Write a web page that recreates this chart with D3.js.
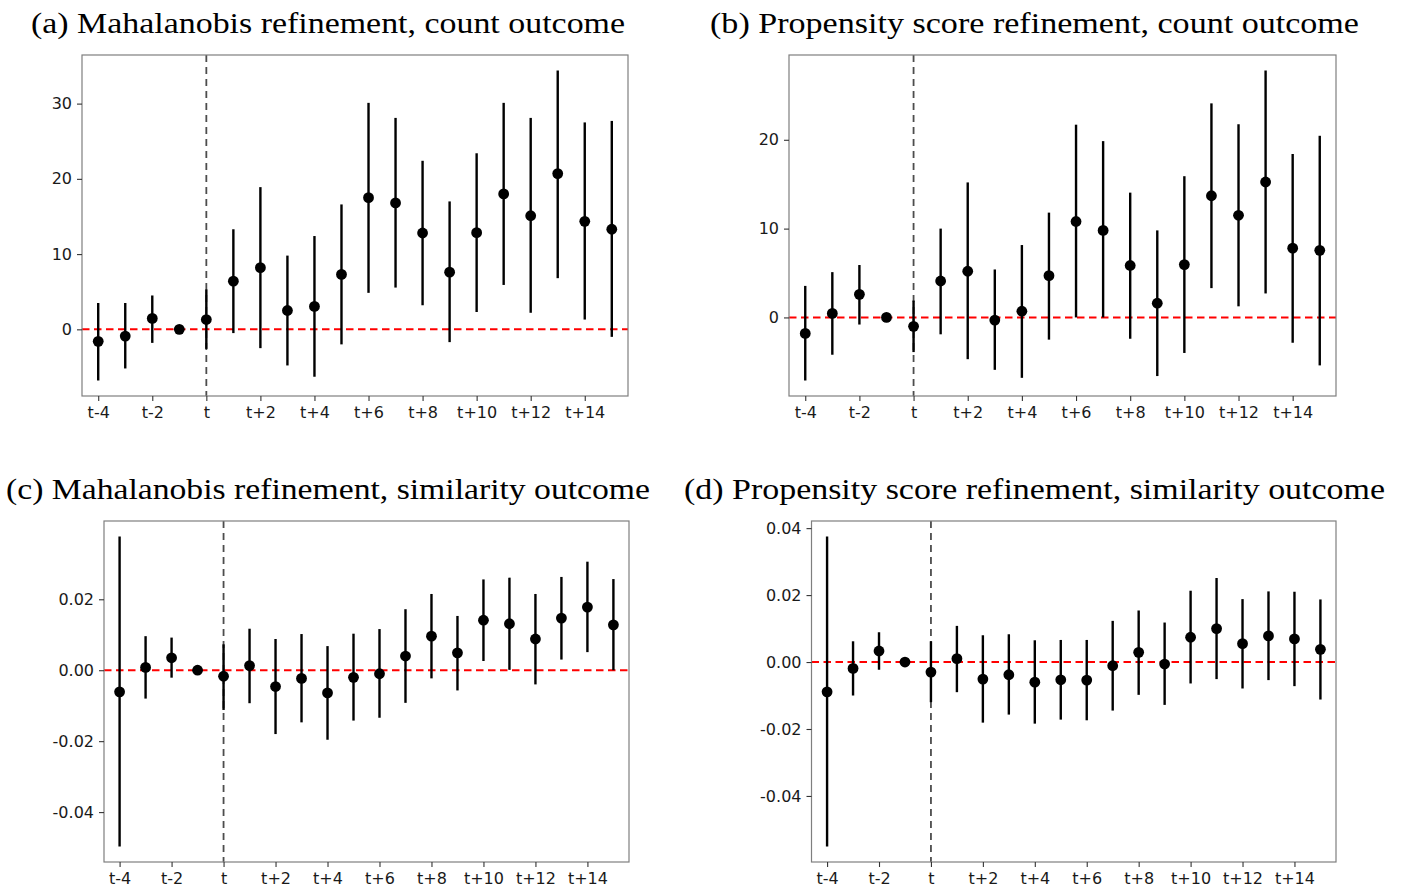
<!DOCTYPE html>
<html>
<head>
<meta charset="utf-8">
<script src="https://cdn.jsdelivr.net/npm/d3@7"></script>
<style>
  html, body { margin: 0; padding: 0; background: #fff; }
  svg { display: block; }
</style>
</head>
<body>
<svg id="chart" width="1402" height="892"></svg>
<script>
// ---------- data ----------
const periods = ["t-4","t-3","t-2","t-1","t","t+1","t+2","t+3","t+4","t+5","t+6","t+7","t+8","t+9","t+10","t+11","t+12","t+13","t+14","t+15"];
const xTickLabels = ["t-4","t-2","t","t+2","t+4","t+6","t+8","t+10","t+12","t+14"];

const titles = [
  "(a) Mahalanobis refinement, count outcome",
  "(b) Propensity score refinement, count outcome",
  "(c) Mahalanobis refinement, similarity outcome",
  "(d) Propensity score refinement, similarity outcome"
];

// (a) Mahalanobis, count
const aEst = [-1.6,-0.9,1.45,0,1.3,6.4,8.2,2.5,3.05,7.3,17.5,16.8,12.8,7.6,12.85,18.0,15.1,20.7,14.35,13.3];
const aLo  = [-6.8,-5.2,-1.8,0,-2.6,-0.5,-2.5,-4.8,-6.3,-2.0,4.85,5.55,3.2,-1.7,2.3,5.9,2.2,6.8,1.3,-1.0];
const aHi  = [3.5,3.5,4.5,0,5.3,13.3,18.9,9.8,12.4,16.6,30.1,28.1,22.4,17.0,23.4,30.1,28.1,34.4,27.5,27.7];

// (b) Propensity score, count
const bEst = [-1.8,0.45,2.6,0,-1.0,4.1,5.2,-0.3,0.7,4.7,10.8,9.8,5.85,1.6,5.95,13.7,11.5,15.25,7.8,7.55];
const bLo  = [-7.1,-4.2,-0.8,0,-3.9,-1.9,-4.7,-5.9,-6.8,-2.5,0.0,0.0,-2.4,-6.6,-4.0,3.3,1.25,2.7,-2.85,-5.4];
const bHi  = [3.55,5.1,5.9,0,1.9,10.0,15.2,5.4,8.15,11.8,21.7,19.85,14.05,9.8,15.9,24.1,21.75,27.8,18.4,20.45];

// (c) Mahalanobis, similarity
const cEst = [-0.0061,0.0008,0.0035,0,-0.0017,0.0013,-0.0046,-0.0023,-0.0064,-0.0020,-0.0010,0.0040,0.0096,0.0049,0.0141,0.0131,0.0088,0.0147,0.0178,0.0128];
const cLo  = [-0.0497,-0.0080,-0.0021,0,-0.0112,-0.0093,-0.0180,-0.0147,-0.0196,-0.0142,-0.0134,-0.0092,-0.0023,-0.0057,0.0026,0.0001,-0.0040,0.0030,0.0051,0.0000];
const cHi  = [0.0377,0.0096,0.0092,0,0.0073,0.0117,0.0088,0.0102,0.0068,0.0103,0.0116,0.0172,0.0215,0.0153,0.0256,0.0261,0.0215,0.0263,0.0306,0.0257];

// (d) Propensity score, similarity
const dEst = [-0.0089,-0.0019,0.0033,0,-0.0030,0.0010,-0.0051,-0.0038,-0.0060,-0.0053,-0.0054,-0.0011,0.0029,-0.0006,0.0074,0.0100,0.0055,0.0078,0.0069,0.0038];
const dLo  = [-0.0551,-0.0100,-0.0023,0,-0.0120,-0.0090,-0.0181,-0.0157,-0.0184,-0.0172,-0.0174,-0.0145,-0.0098,-0.0128,-0.0064,-0.0051,-0.0079,-0.0054,-0.0072,-0.0112];
const dHi  = [0.0375,0.0062,0.0089,0,0.0062,0.0108,0.0080,0.0083,0.0065,0.0066,0.0066,0.0123,0.0154,0.0118,0.0213,0.0251,0.0188,0.0211,0.0210,0.0187];

const aYTicks = [0,10,20,30];
const bYTicks = [0,10,20];
const cYTicks = [-0.04,-0.02,0.00,0.02];
const dYTicks = [-0.04,-0.02,0.00,0.02,0.04];

// ---------- layout ----------
const panels = [
  { title: titles[0], est: aEst, lo: aLo, hi: aHi, yTicks: aYTicks, dec: 0,
    box: {l: 82, r: 628, t: 55, b: 396}, tX0: 31, tX1: 625, tY: 33 },
  { title: titles[1], est: bEst, lo: bLo, hi: bHi, yTicks: bYTicks, dec: 0,
    box: {l: 789, r: 1336, t: 55, b: 396}, tX0: 710, tX1: 1359, tY: 33 },
  { title: titles[2], est: cEst, lo: cLo, hi: cHi, yTicks: cYTicks, dec: 2,
    box: {l: 104, r: 629, t: 521, b: 862}, tX0: 6, tX1: 650, tY: 499 },
  { title: titles[3], est: dEst, lo: dLo, hi: dHi, yTicks: dYTicks, dec: 2,
    box: {l: 811.5, r: 1336, t: 521, b: 862}, tX0: 684, tX1: 1385, tY: 499 }
];

const svg = d3.select("#chart");
const tickFont = "'DejaVu Sans', sans-serif";

function fmt(v, dec) {
  return d3.format("." + dec + "f")(v).replace("\u2212", "-");
}

panels.forEach(p => {
  const {l, r, t, b} = p.box;
  const rows = periods.map((k, i) => ({k, est: p.est[i], lo: p.lo[i], hi: p.hi[i]}));

  const x = d3.scalePoint().domain(periods).range([l, r]).padding(0.6);
  const ymin = d3.min(rows, d => d.lo), ymax = d3.max(rows, d => d.hi);
  const pad = (ymax - ymin) * 0.05;
  const y = d3.scaleLinear().domain([ymin - pad, ymax + pad]).range([b, t]);

  const g = svg.append("g");

  // title
  g.append("text")
    .attr("x", p.tX0).attr("y", p.tY)
    .attr("font-family", "'Liberation Serif', 'DejaVu Serif', serif")
    .attr("font-size", 29)
    .attr("fill", "#000")
    .attr("textLength", p.tX1 - p.tX0)
    .attr("lengthAdjust", "spacingAndGlyphs")
    .text(p.title);

  // zero reference line
  g.append("line")
    .attr("x1", l).attr("x2", r)
    .attr("y1", y(0)).attr("y2", y(0))
    .attr("stroke", "#ff0000").attr("stroke-width", 2)
    .attr("stroke-dasharray", "7.5,4.5");

  // treatment line
  g.append("line")
    .attr("x1", x("t")).attr("x2", x("t"))
    .attr("y1", t).attr("y2", b)
    .attr("stroke", "#4d4d4d").attr("stroke-width", 1.8)
    .attr("stroke-dasharray", "7,5");

  // error bars
  g.selectAll(".bar").data(rows).enter().append("line")
    .attr("x1", d => x(d.k)).attr("x2", d => x(d.k))
    .attr("y1", d => y(d.lo)).attr("y2", d => y(d.hi))
    .attr("stroke", "#000").attr("stroke-width", 2.4);

  // points
  g.selectAll(".pt").data(rows).enter().append("circle")
    .attr("cx", d => x(d.k)).attr("cy", d => y(d.est))
    .attr("r", 5.4).attr("fill", "#000");

  // panel border
  g.append("rect")
    .attr("x", l).attr("y", t).attr("width", r - l).attr("height", b - t)
    .attr("fill", "none").attr("stroke", "#7f7f7f").attr("stroke-width", 1.2);

  // y axis
  const yAxis = d3.axisLeft(y).tickValues(p.yTicks).tickSize(5).tickPadding(5)
    .tickFormat(v => fmt(v, p.dec));
  const ga = g.append("g").attr("transform", `translate(${l},0)`).call(yAxis);
  ga.select(".domain").remove();
  ga.selectAll(".tick line").attr("stroke", "#333").attr("stroke-width", 1.1);
  ga.selectAll(".tick text").attr("font-family", tickFont).attr("font-size", 16).attr("fill", "#1a1a1a");

  // x axis
  const xAxis = d3.axisBottom(x).tickValues(xTickLabels).tickSize(5).tickPadding(6);
  const gx = g.append("g").attr("transform", `translate(0,${b})`).call(xAxis);
  gx.select(".domain").remove();
  gx.selectAll(".tick line").attr("stroke", "#333").attr("stroke-width", 1.1);
  gx.selectAll(".tick text").attr("font-family", tickFont).attr("font-size", 16).attr("fill", "#1a1a1a");
});
</script>
</body>
</html>
